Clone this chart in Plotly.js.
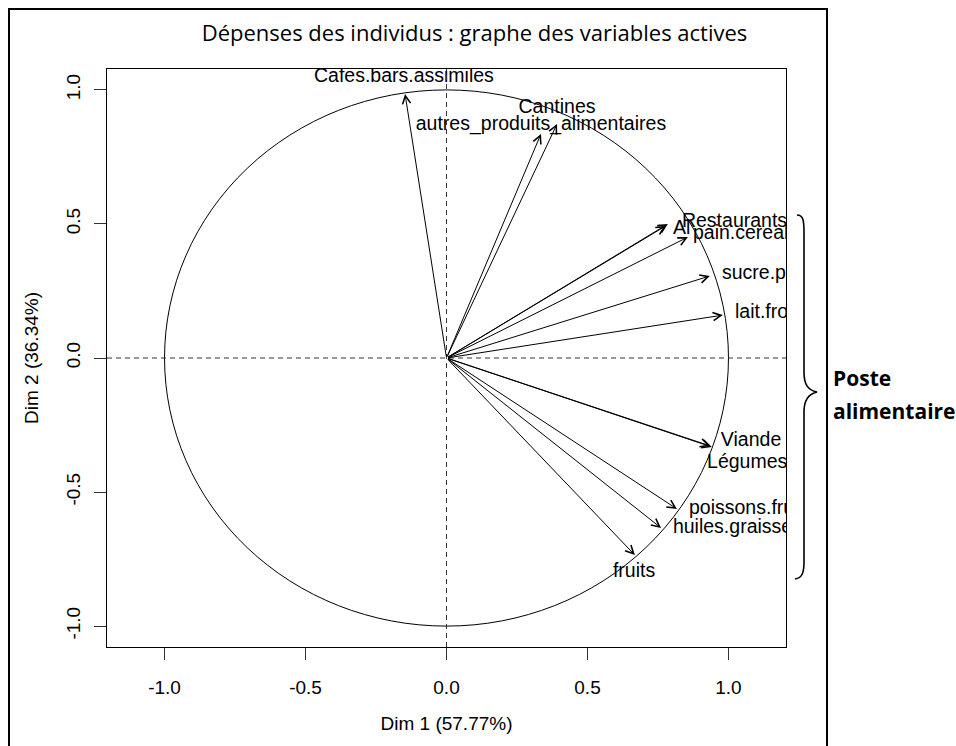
<!DOCTYPE html>
<html>
<head>
<meta charset="utf-8">
<script src="https://cdn.plot.ly/plotly-3.0.1.min.js"></script>
<style>
  html, body { margin: 0; padding: 0; background: #ffffff; }
  #chart { width: 956px; height: 746px; }
</style>
</head>
<body>
<div id="chart"></div>
<script>
// ---- Data (coordinates of the variables on Dim 1 / Dim 2) ----
const variables = [
  "Cafes.bars.assimiles", "Cantines", "autres_produits_alimentaires",
  "Restaurants.hotels", "Al", "pain.cereales", "sucre.produits.sucres",
  "lait.fromages.oeufs", "Viande", "Légumes", "poissons.fruits.de.mer",
  "huiles.graisses", "fruits"
];
const dim1 = [-0.147, 0.392, 0.335, 0.785, 0.778, 0.856, 0.934, 0.980, 0.941, 0.935, 0.817, 0.761, 0.668];
const dim2 = [ 0.985, 0.873, 0.836, 0.500, 0.493, 0.451, 0.306, 0.160, -0.332, -0.328, -0.563, -0.634, -0.735];

// label anchor coordinates (data units)
const labelX = [-0.151, 0.392, 0.335, 0.835, 0.803, 0.874, 0.977, 1.023, 0.973, 0.924, 0.860, 0.803, 0.665];
const labelY = [ 1.049, 0.932, 0.870, 0.507, 0.481, 0.463, 0.313, 0.168, -0.310, -0.392, -0.563, -0.634, -0.799];
const labelAlign = ["c","c","c","l","l","l","l","l","l","l","l","l","c"];

const tickVals = [-1, -0.5, 0, 0.5, 1];
const tickText = ["-1.0", "-0.5", "0.0", "0.5", "1.0"];

const chartTitle = "Dépenses des individus : graphe des variables actives";
const xTitle = "Dim 1 (57.77%)";
const yTitle = "Dim 2 (36.34%)";
const sideNote = ["Poste", "alimentaire"];

// ---- Layout geometry ----
const W = 956, H = 746;
const M = { l: 107, r: W - 786, t: 69, b: H - 647 };
const PW = W - M.l - M.r, PH = H - M.t - M.b;
const px2paperX = px => (px - M.l) / PW;
const px2paperY = py => (H - M.b - py) / PH;

const RFONT = "Liberation Sans, Arial, sans-serif";
const LABEL_FONT = { family: RFONT, size: 19.5, color: "#000" };

// text traces (clipped to the plot area like the original)
const centerIdx = labelAlign.map((a, i) => a === "c" ? i : -1).filter(i => i >= 0);
const leftIdx = labelAlign.map((a, i) => a === "l" ? i : -1).filter(i => i >= 0);

const traces = [
  {
    type: "scatter", mode: "text",
    x: centerIdx.map(i => labelX[i]), y: centerIdx.map(i => labelY[i]),
    text: centerIdx.map(i => variables[i]),
    textposition: "middle center", textfont: LABEL_FONT,
    cliponaxis: true, hoverinfo: "skip", showlegend: false
  },
  {
    type: "scatter", mode: "text",
    x: leftIdx.map(i => labelX[i]), y: leftIdx.map(i => labelY[i]),
    text: leftIdx.map(i => variables[i]),
    textposition: "middle right", textfont: LABEL_FONT,
    cliponaxis: true, hoverinfo: "skip", showlegend: false
  }
];

// arrows from the origin to each variable
const annotations = variables.map((v, i) => ({
  x: dim1[i], y: dim2[i], xref: "x", yref: "y",
  ax: 0, ay: 0, axref: "x", ayref: "y",
  text: "", showarrow: true,
  arrowhead: 5, arrowsize: 1.6, arrowwidth: 1, arrowcolor: "#000",
  standoff: 0, startstandoff: 0
}));

// side note
annotations.push({
  xref: "paper", yref: "paper", x: px2paperX(831), y: px2paperY(378),
  xanchor: "left", yanchor: "middle", showarrow: false, text: sideNote[0],
  font: { family: "Open Sans, sans-serif", size: 21, color: "#000", weight: 700 }
});
annotations.push({
  xref: "paper", yref: "paper", x: px2paperX(831), y: px2paperY(411),
  xanchor: "left", yanchor: "middle", showarrow: false, text: sideNote[1],
  font: { family: "Open Sans, sans-serif", size: 21, color: "#000", weight: 700 }
});

// brace path (pixel -> paper)
function pathFromPx(cmds) {
  return cmds.map(c => {
    const [op, ...pts] = c;
    const out = [];
    for (let k = 0; k < pts.length; k += 2) {
      out.push(px2paperX(pts[k]).toFixed(5) + "," + px2paperY(pts[k + 1]).toFixed(5));
    }
    return op + out.join(" ");
  }).join(" ");
}
const bracePath = pathFromPx([
  ["M", 797, 215],
  ["C", 803, 215, 804, 220, 804, 232],
  ["L", 804, 372],
  ["C", 804, 385, 808, 390, 817, 392],
  ["C", 808, 394, 804, 400, 804, 412],
  ["L", 804, 562],
  ["C", 804, 573, 802, 578, 795, 579]
]);

const shapes = [
  // unit circle
  { type: "circle", xref: "x", yref: "y", x0: -1, x1: 1, y0: -1, y1: 1,
    line: { color: "#000", width: 1 } },
  // dashed axes through origin
  { type: "line", xref: "x", yref: "paper", x0: 0, x1: 0, y0: 0, y1: 1,
    line: { color: "#333", width: 1, dash: "5px,4px" } },
  { type: "line", xref: "paper", yref: "y", x0: 0, x1: 1, y0: 0, y1: 0,
    line: { color: "#333", width: 1, dash: "5px,4px" } },
  // outer frame
  { type: "rect", xref: "paper", yref: "paper",
    x0: px2paperX(9), x1: px2paperX(827), y0: px2paperY(770), y1: px2paperY(9),
    line: { color: "#000", width: 2 } },
  // brace
  { type: "path", xref: "paper", yref: "paper", path: bracePath,
    line: { color: "#000", width: 1.6 } }
];

const axisCommon = {
  tickvals: tickVals, ticktext: tickText,
  ticks: "outside", ticklen: 12, tickwidth: 1, tickcolor: "#333",
  showline: true, mirror: true, linecolor: "#000", linewidth: 1,
  showgrid: false, zeroline: false,
  tickfont: { family: RFONT, size: 19, color: "#000" },
  fixedrange: true
};

const layout = {
  width: W, height: H,
  margin: M,
  paper_bgcolor: "#fff", plot_bgcolor: "#fff",
  showlegend: false,
  title: {
    text: chartTitle, xref: "container", yref: "container",
    x: 474.5 / W, y: 1 - 33 / H, xanchor: "center", yanchor: "middle",
    font: { family: "Open Sans, sans-serif", size: 22, color: "#000" }
  },
  xaxis: Object.assign({}, axisCommon, {
    range: [-1.204, 1.204],
    ticklabelstandoff: 11,
    title: { text: xTitle, standoff: 19,
      font: { family: RFONT, size: 19, color: "#000" } }
  }),
  yaxis: Object.assign({}, axisCommon, {
    range: [-1.078, 1.078],
    tickangle: -90,
    ticklabelstandoff: 6,
    title: { text: yTitle, standoff: 19,
      font: { family: RFONT, size: 19, color: "#000" } }
  }),
  shapes: shapes,
  annotations: annotations
};

Plotly.newPlot("chart", traces, layout, { staticPlot: true, displayModeBar: false });
</script>
</body>
</html>
